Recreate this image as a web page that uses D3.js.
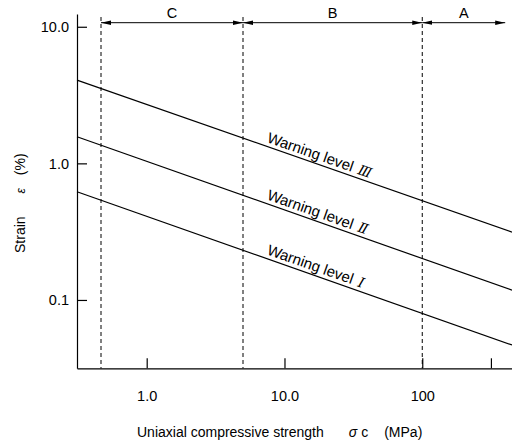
<!DOCTYPE html>
<html>
<head>
<meta charset="utf-8">
<script src="https://cdn.jsdelivr.net/npm/d3@7"></script>
<style>
  body { margin: 0; background: #fff; }
  svg { display: block; font-family: "Liberation Sans", Arial, sans-serif; }
</style>
</head>
<body>
<div id="chart"></div>
<script>
// data
const levelNames = ['Ⅰ', 'Ⅱ', 'Ⅲ'];
const sigmaEnds = [0.312, 448];          // MPa, left and right end of the lines
const strainStart = [0.62, 1.565, 4.07]; // % at sigmaEnds[0]
const strainEnd = [0.0468, 0.118, 0.314]; // % at sigmaEnds[1]

const zoneNames = ['C', 'B', 'A'];
const zoneEdges = [0.466, 5, 100, 400];

const xTicks = [1, 10, 100, 315];
const xTickLabels = ['1.0', '10.0', '100', ''];
const yTicks = [0.1, 1, 10];
const yTickLabels = ['0.1', '1.0', '10.0'];

const width = 512;
const height = 443;

const svg = d3.select('#chart').append('svg')
  .attr('width', width)
  .attr('height', height);

const scaleX = d3.scaleLog().domain([0.312, 448]).range([77, 512]);
const scaleY = d3.scaleLog().domain([0.0316, 12.4]).range([368.3, 14]);

const font = '"Liberation Sans", Arial, sans-serif';

// axes
const $xAxis = svg.append('g')
  .attr('transform', `translate(0, ${scaleY.range()[0]})`)
  .call(d3.axisBottom(scaleX)
    .tickValues(xTicks)
    .tickFormat((d, i) => xTickLabels[i])
    .tickSizeInner(-10)
    .tickSizeOuter(0)
    .tickPadding(22));

const $yAxis = svg.append('g')
  .attr('transform', `translate(${scaleX.range()[0]}, 0)`)
  .call(d3.axisLeft(scaleY)
    .tickValues(yTicks)
    .tickFormat((d, i) => yTickLabels[i])
    .tickSizeInner(-10)
    .tickSizeOuter(0)
    .tickPadding(8));

[$xAxis, $yAxis].forEach($a => {
  $a.attr('font-family', font).attr('font-size', 14.5);
  $a.selectAll('path, line').attr('stroke', '#000').attr('stroke-width', 1.2);
  $a.selectAll('text').attr('fill', '#000');
});

// zone boundaries
svg.append('g').selectAll('line')
  .data(zoneEdges.slice(0, 3))
  .join('line')
  .attr('x1', d => scaleX(d))
  .attr('x2', d => scaleX(d))
  .attr('y1', 17)
  .attr('y2', scaleY.range()[0])
  .attr('stroke', '#000')
  .attr('stroke-width', 1)
  .attr('stroke-dasharray', '4,3');

// arrow heads
const defs = svg.append('defs');
defs.append('marker')
  .attr('id', 'arrow')
  .attr('markerUnits', 'userSpaceOnUse')
  .attr('viewBox', '0 -3 10 6')
  .attr('refX', 10)
  .attr('refY', 0)
  .attr('markerWidth', 10)
  .attr('markerHeight', 6)
  .attr('orient', 'auto-start-reverse')
  .append('path')
  .attr('d', 'M0,-2.2L10,0L0,2.2Z')
  .attr('fill', '#000');

const arrowY = 22.7;
const $zones = svg.append('g');
$zones.selectAll('line')
  .data(zoneNames)
  .join('line')
  .attr('x1', (d, i) => scaleX(zoneEdges[i]))
  .attr('x2', (d, i) => scaleX(zoneEdges[i + 1]))
  .attr('y1', arrowY)
  .attr('y2', arrowY)
  .attr('stroke', '#000')
  .attr('stroke-width', 1)
  .attr('marker-start', 'url(#arrow)')
  .attr('marker-end', 'url(#arrow)');

$zones.selectAll('text')
  .data(zoneNames)
  .join('text')
  .attr('x', (d, i) => (scaleX(zoneEdges[i]) + scaleX(zoneEdges[i + 1])) / 2)
  .attr('y', 18.3)
  .attr('text-anchor', 'middle')
  .attr('font-size', 14.5)
  .text(d => d);

// warning level lines
const levels = levelNames.map((name, i) => ({
  name,
  values: [
    { s: sigmaEnds[0], e: strainStart[i] },
    { s: sigmaEnds[1], e: strainEnd[i] }
  ]
}));

const line = d3.line()
  .x(d => scaleX(d.s))
  .y(d => scaleY(d.e));

svg.append('g').selectAll('path')
  .data(levels)
  .join('path')
  .attr('d', d => line(d.values))
  .attr('fill', 'none')
  .attr('stroke', '#000')
  .attr('stroke-width', 1.2);

const labelSigma = 7.2;
const $labels = svg.append('g').selectAll('text')
  .data(levels)
  .join('text')
  .attr('transform', d => {
    const [p0, p1] = d.values.map(v => [scaleX(v.s), scaleY(v.e)]);
    const angle = Math.atan2(p1[1] - p0[1], p1[0] - p0[0]) * 180 / Math.PI;
    const t = (scaleX(labelSigma) - p0[0]) / (p1[0] - p0[0]);
    const x = p0[0] + t * (p1[0] - p0[0]);
    const y = p0[1] + t * (p1[1] - p0[1]);
    return `translate(${x}, ${y}) rotate(${angle})`;
  })
  .attr('y', -4)
  .attr('font-size', 15);

$labels.append('tspan').text('Warning level');
$labels.append('tspan')
  .attr('dx', 6)
  .attr('font-family', '"DejaVu Serif", serif')
  .attr('font-style', 'italic')
  .attr('font-size', 14)
  .text(d => d.name);

// axis titles
const $xTitle = svg.append('text')
  .attr('x', 137)
  .attr('y', 437)
  .attr('font-size', 14);
$xTitle.append('tspan').text('Uniaxial compressive strength');
$xTitle.append('tspan').attr('dx', 25).attr('font-style', 'italic').text('σ');
$xTitle.append('tspan').attr('dx', 4).text('c');
$xTitle.append('tspan').attr('dx', 16).text('(MPa)');

const $yTitle = svg.append('text')
  .attr('transform', 'translate(25, 253) rotate(-90)')
  .attr('font-size', 14);
$yTitle.append('tspan').text('Strain');
$yTitle.append('tspan').attr('dx', 23).attr('font-style', 'italic').attr('font-size', 12).text('ε');
$yTitle.append('tspan').attr('dx', 13).text('(%)');
</script>
</body>
</html>
